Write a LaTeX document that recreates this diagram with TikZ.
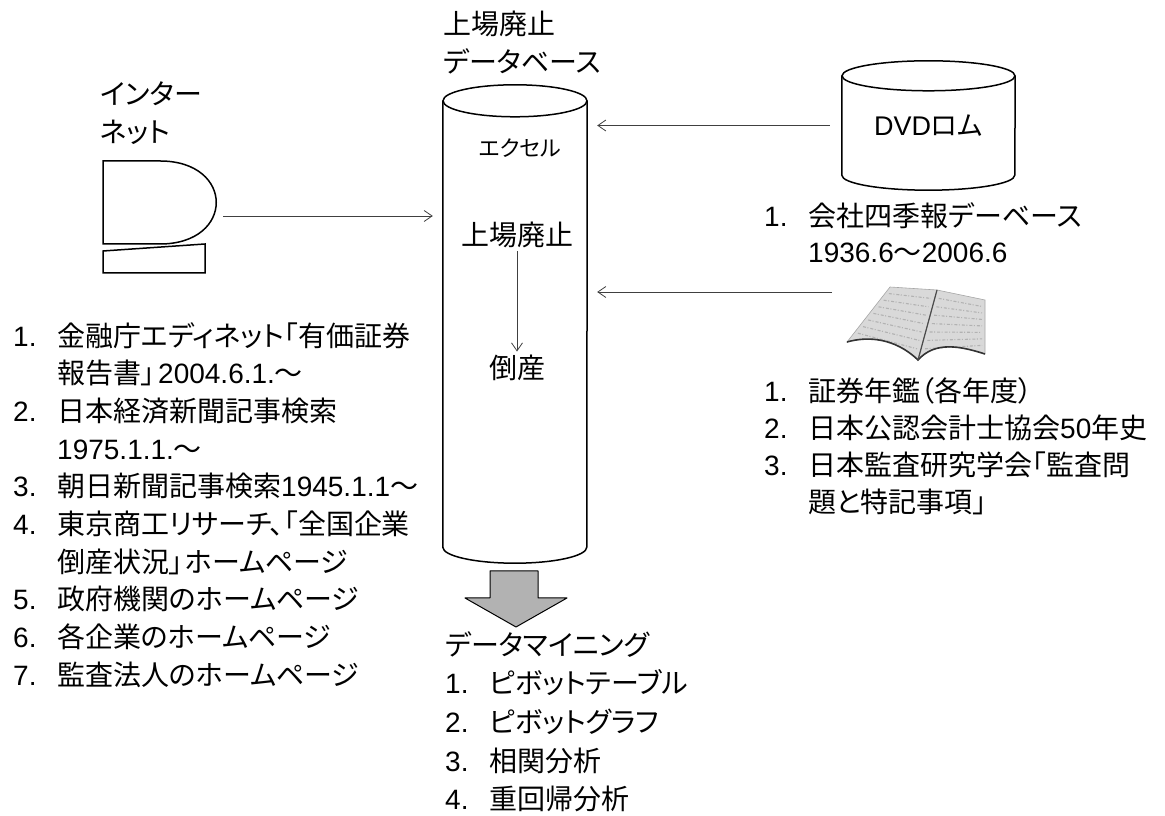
\documentclass[tikz,border=0pt]{standalone}
\usepackage{fontspec}
\setmainfont{Noto Sans CJK JP}[RawFeature=+palt]
\newfontfamily\latfont{Liberation Sans}
\usetikzlibrary{arrows.meta,positioning,calc}
\newcommand{\lat}[1]{{\latfont #1}}
\newcommand{\itm}[1]{\makebox[44pt][l]{\lat{#1.}}}
\newcommand{\cnt}{\hspace*{44pt}}
\tikzset{
  cylline/.style={line width=1.5pt},
  flow/.style={-{Straight Barb[length=8pt,width=11pt]},line width=0.8pt,black!75},
  listtext/.style={align=left,inner sep=0pt,anchor=north west,
    font=\fontsize{28pt}{37.7pt}\selectfont},
  bigarrow/.style={draw,fill=gray!60,line width=1pt,line join=round},
  pages/.style={draw=gray!70,fill=gray!30,line width=0.6pt},
  printline/.style={gray!60,line width=1.1pt,dash pattern=on 3pt off 1.5pt on 1pt off 2pt}
}

\begin{document}
\begin{tikzpicture}[x=1pt,y=1pt]
  \useasboundingbox (0,0) rectangle (1165,816);
  % database cylinder
  \node[minimum width=144pt,minimum height=446pt,inner sep=0pt] (db) at (515,492) {};
  \draw[cylline] (db.north west) -- (db.south west)
    arc[start angle=180,end angle=360,x radius=72,y radius=16] -- (db.north east);
  \draw[cylline] (db.north) ellipse[x radius=72,y radius=16];
  \node[listtext] (dbtitle) at (443,805) {上場廃止\\データベース};
  \node[font=\fontsize{22pt}{26pt}\selectfont] (excel) at (520,668) {エクセル};
  \node[font=\fontsize{28pt}{32pt}\selectfont] (listed) at (517,581) {上場廃止};
  \node[font=\fontsize{28pt}{32pt}\selectfont] (bankrupt) at (517,448) {倒産};
  \draw[flow] (listed) -- (bankrupt);

  % internet terminal
  \draw[cylline] (103,655) -- (160,655) .. controls (235,655) and (235,572) .. (160,572)
    -- (103,572) -- cycle;
  \draw[cylline] (103,565) -- (205,572) -- (205,543) -- (103,543) -- cycle;
  \coordinate (pc) at (215,600);
  \node[listtext] (inet) at (100,734) {インター\\ネット};
  \draw[flow,shorten <=8pt,shorten >=10pt] (pc) -- (pc -| db.west);

  % DVD cylinder
  \node[minimum width=173pt,minimum height=99pt,inner sep=0pt,
    font=\fontsize{27pt}{30pt}\selectfont] (dvd) at (928.5,690.5) {\lat{DVD}ロム};
  \draw[cylline] (dvd.north west) -- (dvd.south west)
    arc[start angle=180,end angle=360,x radius=86.5,y radius=15] -- (dvd.north east);
  \draw[cylline] (dvd.north) ellipse[x radius=86.5,y radius=15];
  \draw[flow,shorten <=12pt,shorten >=10pt] (dvd.west) -- (dvd.west -| db.east);

  % open book
  \coordinate (lt) at (890,529);
  \coordinate (lb) at (847,474);
  \coordinate (st) at (937,526);
  \coordinate (sb) at (918,456);
  \coordinate (rt) at (985,516);
  \coordinate (rb) at (985,462);
  \draw[pages] (lt) -- (st) -- (sb) .. controls (895,478) and (868,480) .. (lb) -- cycle;
  \draw[pages] (st) -- (rt) -- (rb) .. controls (960,470) and (935,475) .. (sb) -- cycle;
  \foreach \t in {0.12,0.24,...,0.85} {
    \draw[printline] ($(lt)!\t!(lb)+(4,0)$) -- ($(st)!\t!(sb)+(-4,0)$);
    \draw[printline] ($(st)!\t!(sb)+(4,0)$) -- ($(rt)!\t!(rb)+(-3,0)$);
  }
  \draw[line width=1.6pt,black!80] (lb) .. controls (868,480) and (895,478) .. (sb)
    .. controls (935,475) and (960,470) .. (rb);
  \draw[line width=1.2pt,black!70] (st) -- (sb);
  \coordinate (book) at (844,524);
  \draw[flow,shorten <=12pt,shorten >=10pt] (book) -- (book -| db.east);

  % source lists
  \node[listtext] (weblist) at (13,494) {%
    \itm{1}金融庁エディネット「有価証券\\
    \cnt 報告書」\kern3pt\lat{2004.6.1.}～\\
    \itm{2}日本経済新聞記事検索\\
    \cnt\lat{1975.1.1.}～\\
    \itm{3}朝日新聞記事検索\lat{1945.1.1}～\\
    \itm{4}東京商工リサーチ、「全国企業\\
    \cnt 倒産状況」\kern2pt ホームページ\\
    \itm{5}政府機関のホームページ\\
    \itm{6}各企業のホームページ\\
    \itm{7}監査法人のホームページ};
  \node[listtext,font=\fontsize{28pt}{36pt}\selectfont] (dvdlist) at (764,614) {%
    \itm{1}会社四季報デーベース\\
    \cnt\lat{1936.6}～\lat{2006.6}};
  \node[listtext,font=\fontsize{28pt}{37pt}\selectfont] (booklist) at (764,439) {%
    \itm{1}証券年鑑（各年度）\\
    \itm{2}日本公認会計士協会\lat{50}年史\\
    \itm{3}日本監査研究学会「監査問\\
    \cnt 題と特記事項」};

  % data mining output
  \draw[bigarrow] (490,245) -- (538,245) -- (538,218) -- (567,218) -- (516,189)
    -- (465,218) -- (490,218) -- cycle;
  \node[listtext,font=\fontsize{28pt}{38.7pt}\selectfont] (mining) at (445,185) {%
    データマイニング\\
    \itm{1}ピボットテーブル\\
    \itm{2}ピボットグラフ\\
    \itm{3}相関分析\\
    \itm{4}重回帰分析};
\end{tikzpicture}
\end{document}
